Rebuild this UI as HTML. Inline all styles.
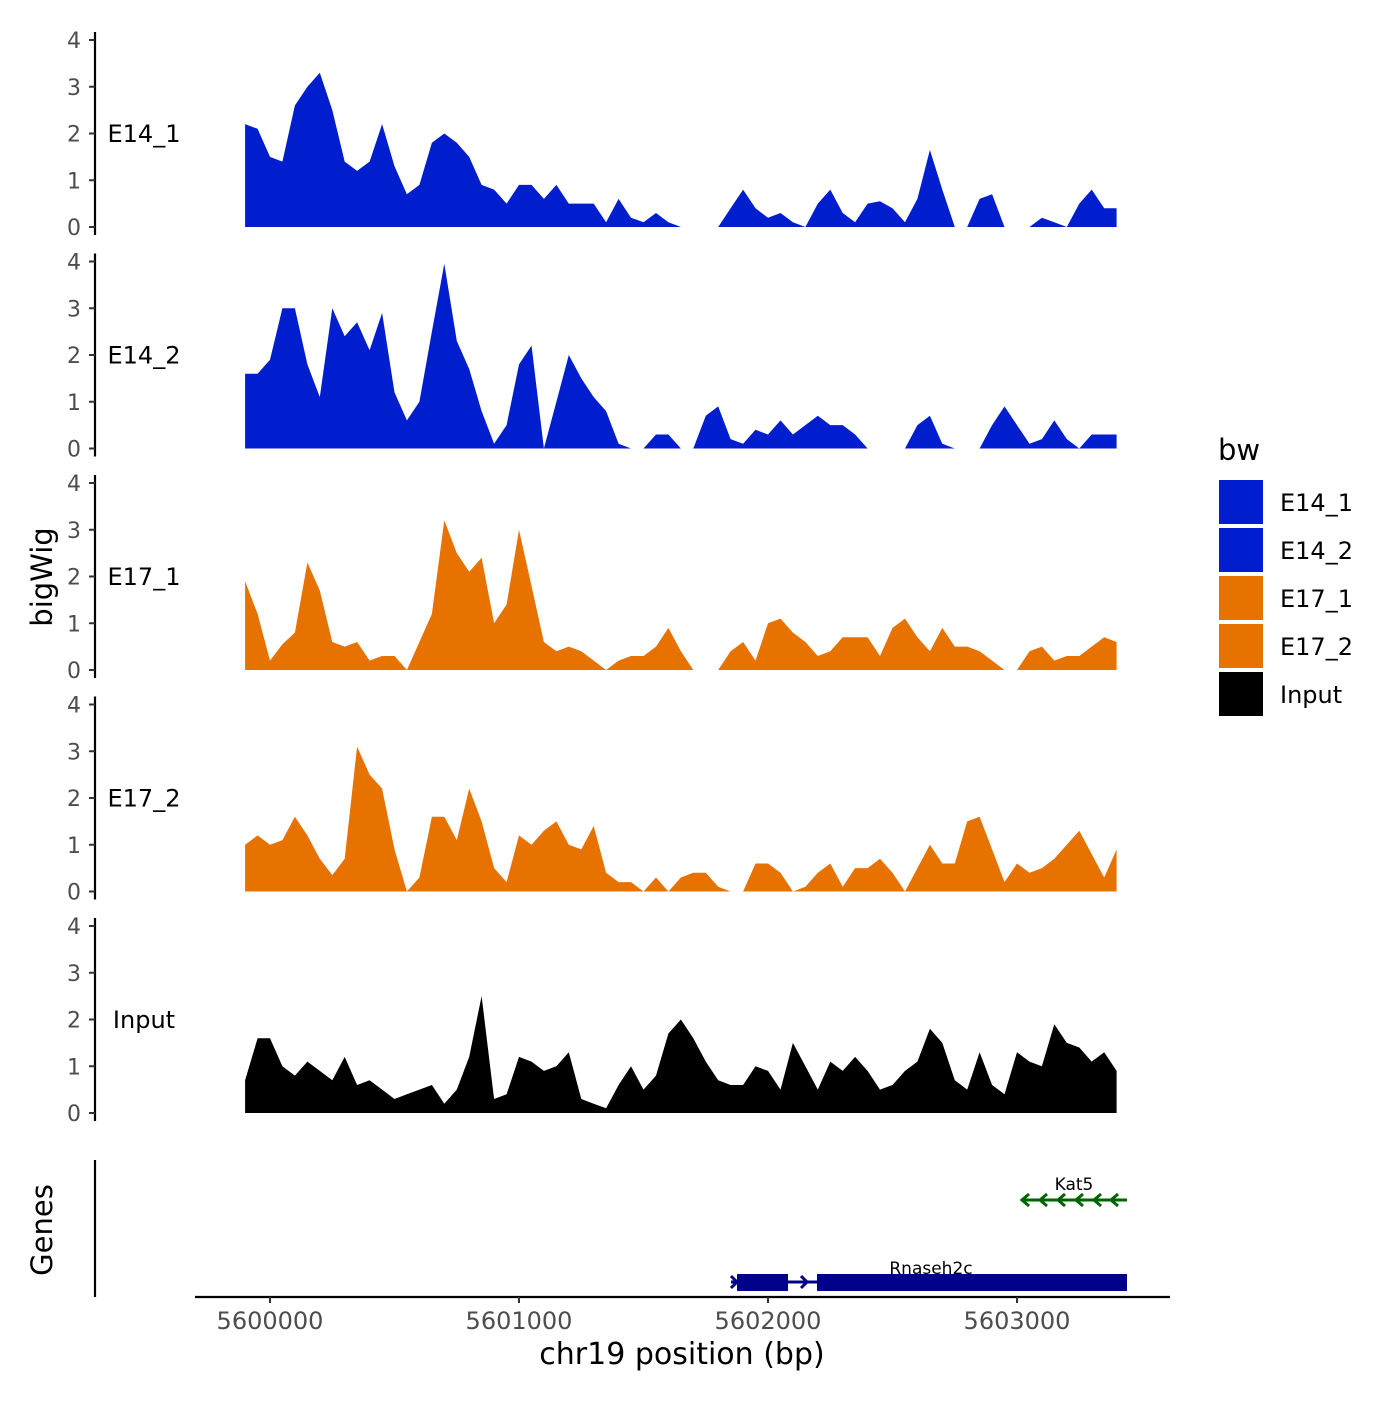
<!DOCTYPE html>
<html><head><meta charset="utf-8"><style>
body{margin:0;background:#fff}
svg text{font-family:"DejaVu Sans","Liberation Sans",sans-serif}
</style></head><body>
<svg id="chart" width="1400" height="1400" viewBox="0 0 1400 1400" xmlns="http://www.w3.org/2000/svg">
<g id="tracks"></g>
<g id="genes">
  <line x1="95" y1="1160" x2="95" y2="1297" stroke="#000" stroke-width="2.2"/>
  <g id="xaxis"></g>
  <text x="52" y="1230" font-size="29" text-anchor="middle" transform="rotate(-90 52 1230)">Genes</text>
  <g>
    <line x1="731" y1="1282" x2="817" y2="1282" stroke="#00008b" stroke-width="3"/>
    <polyline points="731,1276 737,1282 731,1288" fill="none" stroke="#00008b" stroke-width="3"/>
    <polyline points="801,1276 807,1282 801,1288" fill="none" stroke="#00008b" stroke-width="3"/>
    <rect x="737" y="1274" width="51" height="17" fill="#00008b"/>
    <rect x="817" y="1274" width="310" height="17" fill="#00008b"/>
    <text x="931" y="1274" font-size="17" text-anchor="middle">Rnaseh2c</text>
  </g>
  <g stroke="#006400" stroke-width="3" fill="none">
    <line x1="1021" y1="1200" x2="1127" y2="1200"/>
    <polyline points="1029,1194 1022,1200 1029,1206"/>
    <polyline points="1047,1194 1040,1200 1047,1206"/>
    <polyline points="1065,1194 1058,1200 1065,1206"/>
    <polyline points="1083,1194 1076,1200 1083,1206"/>
    <polyline points="1101,1194 1094,1200 1101,1206"/>
    <polyline points="1118,1194 1111,1200 1118,1206"/>
  </g>
  <text x="1074" y="1190" font-size="17" text-anchor="middle">Kat5</text>
</g>
<text x="52" y="577" font-size="29" text-anchor="middle" transform="rotate(-90 52 577)">bigWig</text>
<g id="legend">
  <text x="1218" y="460" font-size="29">bw</text>
</g>
</svg>
<script>
const trackNames = ["E14_1","E14_2","E17_1","E17_2","Input"];
const trackColors = ["#001ecd","#001ecd","#e87200","#e87200","#000000"];
const e14_1 = [2.2,2.1,1.5,1.4,2.6,3.0,3.3,2.5,1.4,1.2,1.4,2.2,1.3,0.7,0.9,1.8,2.0,1.8,1.5,0.9,0.8,0.5,0.9,0.9,0.6,0.9,0.5,0.5,0.5,0.1,0.6,0.2,0.1,0.3,0.1,0,0,0,0,0.4,0.8,0.4,0.2,0.3,0.1,0,0.5,0.8,0.3,0.1,0.5,0.55,0.4,0.1,0.6,1.65,0.8,0,0,0.6,0.7,0,0,0,0.2,0.1,0,0.5,0.8,0.4,0.4];
const e14_2 = [1.6,1.6,1.9,3.0,3.0,1.8,1.1,3.0,2.4,2.7,2.1,2.9,1.2,0.6,1.0,2.5,3.95,2.3,1.7,0.8,0.1,0.5,1.8,2.2,0,1.0,2.0,1.5,1.1,0.8,0.1,0,0,0.3,0.3,0,0,0.7,0.9,0.2,0.1,0.4,0.3,0.6,0.3,0.5,0.7,0.5,0.5,0.3,0,0,0,0,0.5,0.7,0.1,0,0,0,0.5,0.9,0.5,0.1,0.2,0.6,0.2,0,0.3,0.3,0.3];
const e17_1 = [1.9,1.2,0.2,0.55,0.8,2.3,1.7,0.6,0.5,0.6,0.2,0.3,0.3,0,0.6,1.2,3.2,2.5,2.1,2.4,1.0,1.4,3.0,1.8,0.6,0.4,0.5,0.4,0.2,0,0.2,0.3,0.3,0.5,0.9,0.4,0,0,0,0.4,0.6,0.2,1.0,1.1,0.8,0.6,0.3,0.4,0.7,0.7,0.7,0.3,0.9,1.1,0.7,0.4,0.9,0.5,0.5,0.4,0.2,0,0,0.4,0.5,0.2,0.3,0.3,0.5,0.7,0.6];
const e17_2 = [1.0,1.2,1.0,1.1,1.6,1.2,0.7,0.35,0.7,3.1,2.5,2.2,0.9,0,0.3,1.6,1.6,1.1,2.2,1.5,0.5,0.2,1.2,1.0,1.3,1.5,1.0,0.9,1.4,0.4,0.2,0.2,0,0.3,0,0.3,0.4,0.4,0.1,0,0,0.6,0.6,0.4,0,0.1,0.4,0.6,0.1,0.5,0.5,0.7,0.4,0,0.5,1.0,0.6,0.6,1.5,1.6,0.9,0.2,0.6,0.4,0.5,0.7,1.0,1.3,0.8,0.3,0.9];
const input = [0.7,1.6,1.6,1.0,0.8,1.1,0.9,0.7,1.2,0.6,0.7,0.5,0.3,0.4,0.5,0.6,0.2,0.5,1.2,2.5,0.3,0.4,1.2,1.1,0.9,1.0,1.3,0.3,0.2,0.1,0.6,1.0,0.5,0.8,1.7,2.0,1.6,1.1,0.7,0.6,0.6,1.0,0.9,0.5,1.5,1.0,0.5,1.1,0.9,1.2,0.9,0.5,0.6,0.9,1.1,1.8,1.5,0.7,0.5,1.3,0.6,0.4,1.3,1.1,1.0,1.9,1.5,1.4,1.1,1.3,0.9];
const yTicks = [0,1,2,3,4];
const xTicks = [5600000,5601000,5602000,5603000];
const xTickLabels = ["5600000","5601000","5602000","5603000"];
const startBp = 5599900, stepBp = 50;

const NS="http://www.w3.org/2000/svg";
const xScale = bp => 270 + (bp-5600000)*0.249;
const panelBase = k => 227 + 221.5*k;
const yScale = (v,k) => panelBase(k) - v*46.75;
function mk(tag, attrs, parent){const e=document.createElementNS(NS,tag);for(const a in attrs)e.setAttribute(a,attrs[a]);parent.appendChild(e);return e;}

const series=[e14_1,e14_2,e17_1,e17_2,input];
const tracks=document.getElementById('tracks');
series.forEach((vals,k)=>{
  const g=mk('g',{},tracks);
  
  
  const b=panelBase(k);
  let d='M'+xScale(startBp)+','+b;
  vals.forEach((v,i)=>{d+=' L'+xScale(startBp+i*stepBp).toFixed(1)+','+yScale(v,k).toFixed(1);});
  d+=' L'+xScale(startBp+(vals.length-1)*stepBp).toFixed(1)+','+b+' Z';
  const p=mk('path',{d:d,fill:trackColors[k]},g);
  
  
  const ax=mk('line',{x1:95,y1:b-195,x2:95,y2:b+8,stroke:'#000','stroke-width':2.2},g);
  
  
  yTicks.forEach(t=>{
    const y=yScale(t,k);
    const tk=mk('line',{x1:89,y1:y,x2:95,y2:y,stroke:'#333','stroke-width':2},g);
    
    
    const tl=mk('text',{x:81,y:y+8,'font-size':22,fill:'#4d4d4d','text-anchor':'end'},g);
    tl.textContent=t;
    
    
  });
  const lab=mk('text',{x:144,y:b-85,'font-size':24,'text-anchor':'middle'},g);
  lab.textContent=trackNames[k];
  
  
});

const xa=document.getElementById('xaxis');
mk('line',{x1:195,y1:1297,x2:1170,y2:1297,stroke:'#000','stroke-width':2.2},xa);
xTicks.forEach((t,i)=>{
  const x=xScale(t);
  const tk=mk('line',{x1:x,y1:1297,x2:x,y2:1303,stroke:'#333','stroke-width':2},xa);
  
  
  const tl=mk('text',{x:x,y:1329,'font-size':24,fill:'#4d4d4d','text-anchor':'middle'},xa);
  tl.textContent=xTickLabels[i];
  
  
});
const xt=mk('text',{x:682,y:1364,'font-size':30,'text-anchor':'middle'},xa);
xt.textContent='chr19 position (bp)';



const lg=document.getElementById('legend');
trackNames.forEach((n,i)=>{
  const y=480+48*i;
  const r=mk('rect',{x:1219,y:y,width:44,height:44,fill:trackColors[i]},lg);
  
  
  const t=mk('text',{x:1280,y:y+31,'font-size':24},lg);
  t.textContent=n;
  
  
});
</script>
</body></html>
